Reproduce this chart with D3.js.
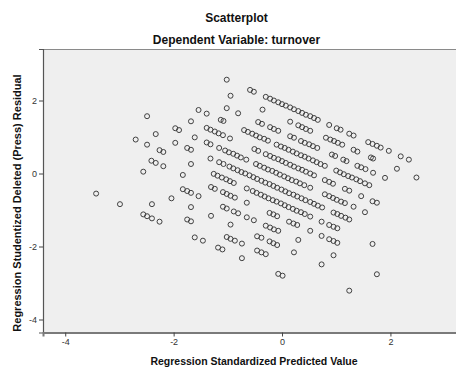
<!DOCTYPE html>
<html>
<head>
<meta charset="utf-8">
<script src="https://cdn.jsdelivr.net/npm/d3@7"></script>
<style>
  body { margin: 0; background: #fff; }
  svg { display: block; font-family: "Liberation Sans", Arial, sans-serif; }
</style>
</head>
<body>
<svg id="chart" width="456" height="367"></svg>
<script>
// Regression standardized predicted values (x) and studentized deleted residuals (y),
// grouped by observed turnover level (one line per level).
const predicted = [
  -1.02,-0.59,-0.52,-0.30,-0.22,-0.15,-0.07,0.00,0.07,0.15,0.22,0.30,0.37,0.44,0.52,0.59,0.66,0.87,1.01,1.08,1.24,1.32,1.59,1.67,1.75,1.82,1.97,2.19,2.34,
  -0.95,-0.36,0.15,0.30,0.37,0.44,0.52,0.81,0.89,0.96,1.03,1.11,1.32,1.39,1.64,1.68,2.12,2.48,
  -1.02,-0.81,-0.44,-0.37,-0.22,-0.15,-0.07,0.15,0.22,0.35,0.42,0.50,0.57,0.65,0.92,0.98,1.13,1.19,1.39,1.46,1.54,1.68,1.90,
  -1.54,-1.39,-1.13,-1.08,-0.70,-0.63,-0.55,-0.48,-0.41,-0.33,-0.26,-0.10,-0.02,0.05,0.12,0.20,0.27,0.35,0.42,0.49,0.57,0.64,0.71,0.79,1.00,1.07,1.14,1.22,1.29,1.37,1.44,1.53,1.61,
  -1.68,-1.39,-1.32,-1.24,-1.17,-1.09,-0.96,-0.51,-0.44,-0.30,-0.22,-0.15,-0.07,0.00,0.07,0.15,0.22,0.30,0.37,0.44,0.52,0.59,0.79,0.87,0.94,1.16,1.24,1.46,1.67,1.75,
  -2.49,-1.97,-1.90,-1.61,-1.39,-1.32,-1.16,-1.05,-0.98,-0.90,-0.83,-0.76,-0.66,-0.48,-0.41,-0.33,-0.26,-0.18,-0.11,-0.04,0.04,0.11,0.18,0.26,0.33,0.41,0.52,0.79,0.87,0.94,1.01,1.09,1.16,1.32,1.53,
  -2.33,-1.97,-1.75,-1.68,-1.32,-1.16,-1.08,-0.97,-0.90,-0.82,-0.75,-0.68,-0.60,-0.53,-0.46,-0.38,-0.31,-0.23,-0.16,-0.09,-0.01,0.06,0.13,0.21,0.28,0.36,0.43,0.52,0.59,0.66,0.74,0.95,1.02,1.09,1.17,1.24,
  -2.70,-2.49,-2.26,-2.19,-1.68,-1.26,-1.19,-1.11,-1.03,-0.96,-0.89,-0.65,-0.54,-0.47,-0.39,-0.32,-0.25,-0.17,-0.10,-0.02,0.05,0.12,0.20,0.27,0.35,0.42,0.52,0.73,0.87,0.95,1.02,1.67,
  -2.41,-2.33,-2.19,-1.83,-1.31,-1.24,-1.09,-1.02,-0.95,-0.87,-0.65,-0.23,-0.16,-0.09,0.13,0.21,0.28,0.52,0.73,0.87,0.95,1.02,
  -2.56,-1.83,-1.75,-1.68,-1.54,-1.09,-1.02,-0.89,-0.81,-0.65,-0.52,-0.30,-0.22,-0.15,-0.07,0.30,0.95,1.75,
  -2.04,-1.68,-1.31,-0.95,-0.46,-0.38,-0.23,-0.16,-0.09,0.22,0.73,
  -2.40,-1.75,-1.68,-1.02,-0.95,-0.87,-0.74,-0.46,-0.38,-0.30,1.24,
  -3.43,-2.99,-2.56,-2.49,-2.40,-2.26,-1.61,-1.46,-1.18,-1.10,-0.74,-0.07,0.01
];
const residual = [
  2.57,2.29,2.24,2.10,2.05,2.00,1.95,1.90,1.86,1.81,1.76,1.71,1.66,1.61,1.57,1.52,1.47,1.33,1.24,1.20,1.09,1.04,0.86,0.81,0.76,0.71,0.62,0.47,0.38,
  2.13,1.75,1.42,1.32,1.27,1.22,1.17,0.98,0.93,0.89,0.84,0.79,0.65,0.60,0.44,0.41,0.13,-0.11,
  1.79,1.65,1.41,1.36,1.27,1.22,1.17,1.02,0.98,0.89,0.84,0.80,0.75,0.70,0.52,0.48,0.38,0.34,0.21,0.17,0.12,0.02,-0.12,
  1.74,1.64,1.47,1.44,1.19,1.14,1.09,1.04,0.99,0.95,0.90,0.79,0.74,0.70,0.65,0.60,0.55,0.50,0.46,0.41,0.36,0.31,0.26,0.21,0.08,0.03,-0.02,-0.07,-0.11,-0.16,-0.21,-0.27,-0.32,
  1.43,1.25,1.20,1.15,1.10,1.05,0.96,0.67,0.62,0.53,0.48,0.43,0.39,0.34,0.29,0.24,0.19,0.14,0.10,0.05,0.00,-0.05,-0.18,-0.23,-0.28,-0.42,-0.47,-0.62,-0.76,-0.80,
  1.57,1.24,1.19,0.99,0.85,0.80,0.70,0.63,0.58,0.54,0.49,0.44,0.38,0.26,0.21,0.16,0.11,0.07,0.02,-0.03,-0.08,-0.13,-0.18,-0.22,-0.27,-0.32,-0.39,-0.57,-0.62,-0.67,-0.72,-0.77,-0.81,-0.91,-1.06,
  1.08,0.84,0.70,0.65,0.41,0.31,0.26,0.19,0.14,0.09,0.04,0.00,-0.05,-0.10,-0.15,-0.20,-0.25,-0.29,-0.34,-0.39,-0.44,-0.49,-0.54,-0.58,-0.63,-0.68,-0.73,-0.78,-0.83,-0.88,-0.93,-1.07,-1.11,-1.16,-1.21,-1.26,
  0.93,0.79,0.64,0.59,0.26,-0.01,-0.06,-0.11,-0.16,-0.21,-0.26,-0.41,-0.48,-0.53,-0.58,-0.63,-0.68,-0.73,-0.77,-0.82,-0.87,-0.92,-0.97,-1.02,-1.06,-1.11,-1.18,-1.32,-1.41,-1.46,-1.50,-1.93,
  0.35,0.29,0.20,-0.04,-0.37,-0.42,-0.51,-0.56,-0.61,-0.66,-0.80,-1.08,-1.12,-1.17,-1.32,-1.37,-1.41,-1.57,-1.71,-1.80,-1.85,-1.90,
  0.05,-0.43,-0.48,-0.53,-0.62,-0.91,-0.96,-1.04,-1.09,-1.20,-1.28,-1.43,-1.48,-1.53,-1.57,-1.82,-2.24,-2.76,
  -0.68,-0.92,-1.16,-1.40,-1.72,-1.76,-1.86,-1.91,-1.96,-2.16,-2.49,
  -0.84,-1.26,-1.31,-1.74,-1.79,-1.84,-1.92,-2.11,-2.16,-2.21,-3.21,
  -0.55,-0.84,-1.12,-1.17,-1.23,-1.32,-1.75,-1.84,-2.03,-2.08,-2.32,-2.75,-2.80
];

const xTicks = [-4, -2, 0, 2];
const yTicks = [-4, -2, 0, 2];
const chartTitle = "Scatterplot";
const chartSubtitle = "Dependent Variable: turnover";
const xTitle = "Regression Standardized Predicted Value";
const yTitle = "Regression Studentized Deleted (Press) Residual";

const svg = d3.select("#chart");
const plot = { left: 43, top: 49, right: 470, bottom: 332.5 };

const x = d3.scaleLinear().domain([-4.41, 3.468]).range([plot.left, plot.right]);
const y = d3.scaleLinear().domain([-4.356, 3.411]).range([plot.bottom, plot.top]);

// Titles
svg.append("text")
  .attr("x", 236.5).attr("y", 22)
  .attr("text-anchor", "middle")
  .attr("font-size", 12).attr("font-weight", "bold").attr("fill", "#111")
  .text(chartTitle);
svg.append("text")
  .attr("x", 236.5).attr("y", 44)
  .attr("text-anchor", "middle")
  .attr("font-size", 12).attr("font-weight", "bold").attr("fill", "#111")
  .text(chartSubtitle);

// Plot background
svg.append("rect")
  .attr("x", plot.left).attr("y", plot.top)
  .attr("width", plot.right - plot.left).attr("height", plot.bottom - plot.top)
  .attr("fill", "#efefef");
svg.append("line")
  .attr("x1", plot.left).attr("x2", plot.right)
  .attr("y1", plot.top + 0.5).attr("y2", plot.top + 0.5)
  .attr("stroke", "#8a8a8a").attr("stroke-width", 1);

// Axes
const yAxis = svg.append("g")
  .attr("transform", `translate(${plot.left},0)`)
  .call(d3.axisLeft(y).tickValues(yTicks).tickSize(4).tickPadding(2).tickFormat(d3.format("d")));
const xAxis = svg.append("g")
  .attr("transform", `translate(0,${plot.bottom})`)
  .call(d3.axisBottom(x).tickValues(xTicks).tickSize(4).tickPadding(2).tickFormat(d3.format("d")));

[yAxis, xAxis].forEach(g => {
  g.selectAll("text").attr("font-size", 9).attr("fill", "#333")
    .attr("font-family", "\"Liberation Sans\", Arial, sans-serif")
    .text(d => String(d).replace("\u2212", "-"));
  g.selectAll(".tick line").attr("stroke", "#444");
});
yAxis.select(".domain").attr("stroke", "#555").attr("stroke-width", 1.2);
xAxis.select(".domain").attr("stroke", "#7a7a7a").attr("stroke-width", 2);

// Axis titles
svg.append("text")
  .attr("x", 254).attr("y", 365)
  .attr("text-anchor", "middle")
  .attr("font-size", 10.5).attr("font-weight", "bold").attr("fill", "#111")
  .text(xTitle);
svg.append("text")
  .attr("transform", "translate(21,203) rotate(-90)")
  .attr("text-anchor", "middle")
  .attr("font-size", 11).attr("font-weight", "bold").attr("fill", "#111")
  .text(yTitle);

// Points: open circles
const points = predicted.map((p, i) => ({ p, r: residual[i] }));
svg.append("g")
  .selectAll("circle")
  .data(points)
  .join("circle")
  .attr("cx", d => x(d.p))
  .attr("cy", d => y(d.r))
  .attr("r", 2.5)
  .attr("fill", "none")
  .attr("stroke", "#404040")
  .attr("stroke-width", 1);
</script>
</body>
</html>
